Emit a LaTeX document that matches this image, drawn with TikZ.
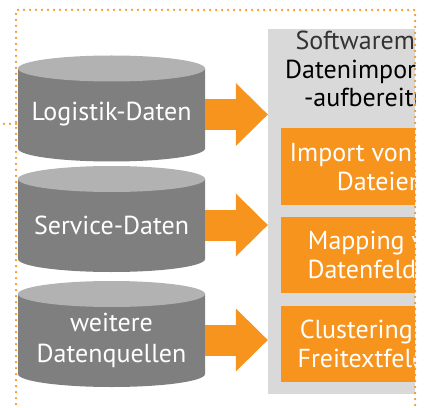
\documentclass[tikz,border=0pt]{standalone}
\usepackage{fontspec}
\setmainfont{PT Sans}
\usepackage{xcolor}
\usetikzlibrary{arrows.meta,backgrounds}

\definecolor{dbdark}{HTML}{7F7F7F}
\definecolor{dblight}{HTML}{B2B2B2}
\definecolor{panelgray}{HTML}{D9D9D9}
\definecolor{fhorange}{HTML}{F7941D}

\begin{document}
\begin{tikzpicture}[x=1pt, y=1pt,
  dbtext/.style={text=white, minimum width=187pt, inner sep=0pt, align=center,
    font=\fontsize{26}{31}\selectfont},
  stepbox/.style={fill=fhorange, text=white, minimum width=198pt, minimum height=76pt,
    inner sep=0pt, align=center, font=\fontsize{26}{29}\selectfont},
  bigarrow/.style={draw=fhorange, line width=31pt,
    -{Triangle[width=63pt, length=32pt, line width=0pt]}},
  dotframe/.style={draw=fhorange, line width=2.5pt, line cap=round, dash pattern=on 0pt off 6pt}]
  \useasboundingbox (0,0) rectangle (427,407);

  \begin{scope}
    \clip (0,0) rectangle (415,407);

    % data sources
    \node[dbtext] (logistik) at (111.5,292.5) {Logistik-Daten};
    \node[dbtext] (service) at (111.5,182) {Service-Daten};
    \node[dbtext] (weitere) at (111.5,67) {weitere\\Datenquellen};

    % cylinders behind the texts
    \begin{pgfonlayer}{background}
      \foreach \db in {logistik, service, weitere} {
        \begin{scope}[shift={(\db.center)}]
          \fill[dbdark] (-93.5,46) -- (-93.5,-34)
            arc[start angle=180, end angle=360, x radius=93.5, y radius=13]
            -- (93.5,46) -- cycle;
          \fill[dblight] (0,46) ellipse [x radius=93.5, y radius=13];
        \end{scope}
      }
    \end{pgfonlayer}

    % software module
    \node[fill=panelgray, minimum width=224pt, minimum height=365pt, inner sep=0pt]
      (panel) at (380,195.5) {};
    \node[font=\fontsize{26}{28}\selectfont, text=black!80] (modul) at (380,367) {Softwaremodul};
    \node[font=\fontsize{26}{28}\selectfont, align=center] (datenimport) at (380,321)
      {Datenimport und\\-aufbereitung};

    \node[stepbox] (dateien) at (380,240.5) {Import von CSV-\\Dateien};
    \node[stepbox] (mapping) at (380,152) {Mapping von\\Datenfeldern};
    \node[stepbox] (clustering) at (380,63) {Clustering von\\Freitextfeldern};

    % arrows into the module
    \foreach \db in {logistik, service, weitere}
      \draw[bigarrow] (\db.east) -- (\db.east -| panel.west);
  \end{scope}

  % dotted frame
  \draw[dotframe] (16,3) -- (16,397) -- (415,397) -- (415,2);
  \draw[dotframe] (4,283) -- (16,283);
\end{tikzpicture}
\end{document}
